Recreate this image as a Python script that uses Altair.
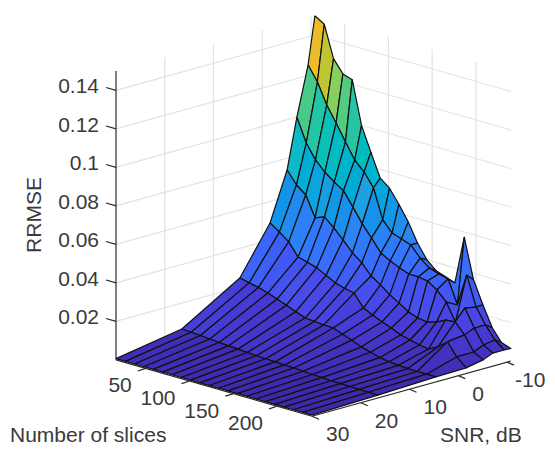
import altair as alt
import pandas as pd

snr_rows = [30, 16.5, 4.6, -1.6, -5.1, -7.1, -9.4, -10.8]
slices_cols = [16, 26.7, 37.3, 48, 58.7, 69.3, 80, 90.7, 101.3, 112, 122.7, 133.3, 144, 154.7, 165.3, 176, 186.7, 197.3, 208, 218.7, 229.3, 240]
rrmse_snr_m10_8 = [.15,.147,.1305,.124,.1224,.100,.0875,.0754,.0716,.0647,.0569,.0473,.040,.0357,.034,.0322,.0574,.0366,.025,.0145,.0082,.0065]
rrmse_snr_m9_4 = [.1254,.118,.1074,.0995,.091,.083,.0782,.0713,.0561,.0507,.049,.0473,.0419,.0381,.0364,.0352,.0231,.040,.0248,.0169,.0105,.0067]
rrmse_snr_m7_1 = [.0999,.0879,.0805,.0755,.0718,.0687,.0616,.0543,.0483,.0419,.0392,.037,.0352,.0351,.0344,.0311,.0262,.0172,.0259,.0169,.0095,.0067]
rrmse_snr_m5_1 = [.0739,.0675,.0637,.0532,.0551,.0508,.0459,.0406,.0368,.0314,.0282,.0244,.0215,.0183,.0166,.0159,.0172,.0197,.0201,.0148,.0073,.0046]
rrmse_snr_m1_6 = [.0488,.0455,.0418,.0353,.034,.0325,.03,.0274,.026,.025,.0186,.0164,.0142,.0125,.0102,.009,.0078,.0071,.0096,.0136,.0072,.0029]
rrmse_snr_4_6 = [.0246,.0235,.0225,.021,.0192,.0175,.0155,.0136,.0132,.0128,.0126,.0108,.0091,.007,.0056,.0042,.0035,.003,.0027,.0026,.0026,.0026]
rrmse_snr_16_5 = [.0065,.0062,.0059,.0055,.0051,.0047,.0044,.0041,.0038,.0036,.0034,.0032,.003,.0027,.0024,.0022,.002,.0019,.0018,.0017,.0016,.0015]
rrmse_snr_30 = [.0006,.0006,.0006,.0006,.0006,.0006,.0006,.0006,.0006,.0006,.0006,.0006,.0006,.0006,.0006,.0006,.0006,.0006,.0006,.0006,.0006,.0006]
rrmse = [rrmse_snr_30, rrmse_snr_16_5, rrmse_snr_4_6, rrmse_snr_m1_6, rrmse_snr_m5_1, rrmse_snr_m7_1, rrmse_snr_m9_4, rrmse_snr_m10_8]

z_ticks = [0.02, 0.04, 0.06, 0.08, 0.1, 0.12, 0.14]
z_labels = ["0.02", "0.04", "0.06", "0.08", "0.1", "0.12", "0.14"]
slice_ticks = [50, 100, 150, 200]
snr_ticks = [30, 20, 10, 0, -10]
color_values = [0.001, 0.004, 0.012, 0.022, 0.032, 0.042, 0.052, 0.066, 0.082, 0.095, 0.107, 0.115, 0.125, 0.134, 0.15]
color_hexes = ["#3E28AC", "#4030B8", "#4638D0", "#4848E8", "#405CF5", "#3673FF", "#2E87F0", "#20A0E0", "#0FB8C8", "#1FC2AE", "#40C88E", "#85D060", "#BCC636", "#E8B82E", "#F9FB15"]

S0, SN, S1, N1 = 16, 30, 240, -10.8
ZTOP = 0.150
INK = "#3A3A3A"
FONT = "Liberation Sans"


def px(snr, s):
    return 116 + (SN - snr) * 4.875 + (s - S0) * 0.875


def py(snr, s, z):
    return 359.8 - (SN - snr) * 1.355 + (s - S0) * 0.2522 - z * 1925


# surface cells, back to front
cells = []
cid = 0
for r in range(len(snr_rows) - 1, 0, -1):
    for c in range(len(slices_cols) - 1):
        corners = [(r, c), (r, c + 1), (r - 1, c + 1), (r - 1, c), (r, c)]
        mean = sum(rrmse[a][b] for a, b in corners[:4]) / 4
        for k, (a, b) in enumerate(corners):
            cells.append({"cell": cid, "k": k, "value": mean,
                          "x": px(snr_rows[a], slices_cols[b]),
                          "y": py(snr_rows[a], slices_cols[b], rrmse[a][b])})
        cid += 1

grid, axes = [], []
gid = 0


def add(store, pts):
    global gid
    for k, (x, y) in enumerate(pts):
        store.append({"id": gid, "k": k, "x": x, "y": y})
    gid += 1


for z in z_ticks:
    add(grid, [(px(SN, S0), py(SN, S0, z)), (px(N1, S0), py(N1, S0, z)), (px(N1, S1), py(N1, S1, z))])
for n in snr_ticks[1:]:
    add(grid, [(px(n, S0), py(n, S0, 0)), (px(n, S0), py(n, S0, ZTOP))])
for s in slice_ticks:
    add(grid, [(px(N1, s), py(N1, s, 0)), (px(N1, s), py(N1, s, ZTOP))])
add(grid, [(px(N1, S0), py(N1, S0, 0)), (px(N1, S0), py(N1, S0, ZTOP))])

add(axes, [(px(SN, S0), py(SN, S0, 0)), (px(SN, S0), py(SN, S0, ZTOP))])
add(axes, [(px(SN, S0), py(SN, S0, 0)), (px(SN, S1), py(SN, S1, 0))])
add(axes, [(px(SN, S1), py(SN, S1, 0)), (px(N1, S1), py(N1, S1, 0))])
for z in z_ticks:
    x, y = px(SN, S0), py(SN, S0, z)
    add(axes, [(x, y), (x - 10, y - 2.8)])
for s in slice_ticks:
    x, y = px(SN, s), py(SN, s, 0)
    add(axes, [(x, y), (x - 8, y + 2.6)])
for n in snr_ticks:
    x, y = px(n, S1), py(n, S1, 0)
    add(axes, [(x, y), (x + 7, y + 3)])

texts_r, texts_l = [], []
for z, t in zip(z_ticks, z_labels):
    texts_r.append({"x": px(SN, S0) - 17, "y": py(SN, S0, z) - 3, "t": t})
for s in slice_ticks:
    texts_r.append({"x": px(SN, s) - 14, "y": py(SN, s, 0) + 18, "t": str(s)})
for n in snr_ticks[:-1]:
    texts_l.append({"x": px(n, S1) + 14, "y": py(n, S1, 0) + 19, "t": str(n)})
texts_l.append({"x": 515, "y": py(-10, S1, 0) + 19, "t": str(snr_ticks[-1])})
titles = [{"x": 10, "y": 436, "t": "Number of slices"}, {"x": 440, "y": 436, "t": "SNR, dB"}]

xs = alt.X("x:Q", scale=alt.Scale(domain=[8, 547], range=[0, 539]), axis=None)
ys = alt.Y("y:Q", scale=alt.Scale(domain=[8, 449], range=[0, 441]), axis=None)


def lines(rows, color, w):
    return alt.Chart(pd.DataFrame(rows)).mark_line(color=color, strokeWidth=w).encode(
        x=xs, y=ys, detail="id:N", order="k:Q")


surface = alt.Chart(pd.DataFrame(cells)).mark_line(stroke="#111111", strokeWidth=1.2, strokeJoin="round").encode(
    x=xs, y=ys, detail="cell:N", order="k:Q",
    fill=alt.Fill("value:Q", legend=None,
                  scale=alt.Scale(domain=color_values, range=color_hexes)))

txt = dict(font=FONT, fontSize=21, color=INK, baseline="middle")
t_r = alt.Chart(pd.DataFrame(texts_r)).mark_text(align="right", **txt).encode(x=xs, y=ys, text="t:N")
t_l = alt.Chart(pd.DataFrame(texts_l)).mark_text(align="left", **txt).encode(x=xs, y=ys, text="t:N")
t_t = alt.Chart(pd.DataFrame(titles)).mark_text(align="left", **txt).encode(x=xs, y=ys, text="t:N")
t_y = alt.Chart(pd.DataFrame([{"x": 35, "y": 215, "t": "RRMSE"}])).mark_text(align="center", angle=270, **txt).encode(x=xs, y=ys, text="t:N")

chart = alt.layer(lines(grid, "#E2E2E2", 1.2), surface, lines(axes, "#2A2A2A", 1.2), t_r, t_l, t_t, t_y).properties(
    width=539, height=441, padding=0, autosize="none"
).configure_view(stroke=None)

chart.save("out.html", embed_options={"renderer": "svg", "actions": False})
